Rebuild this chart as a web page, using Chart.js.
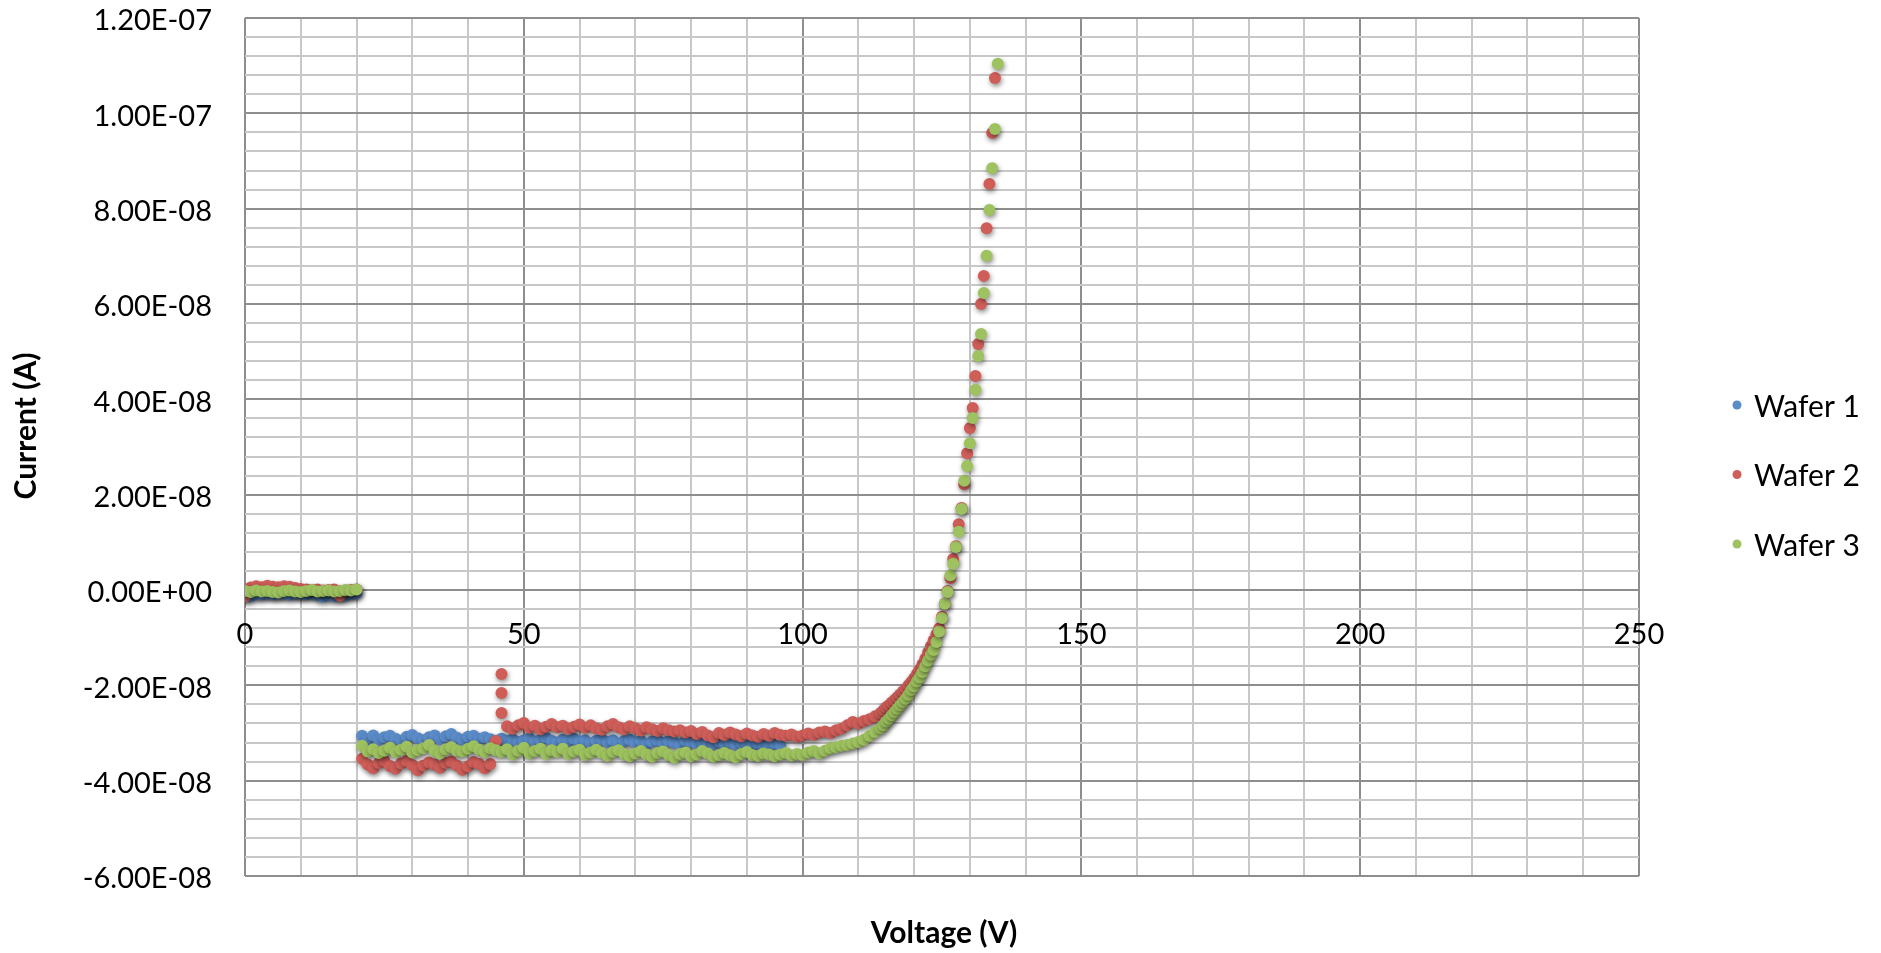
<!DOCTYPE html>
<html>
<head>
<meta charset="utf-8">
<title>Wafer IV</title>
<script src="https://cdn.jsdelivr.net/npm/chart.js@4.4.1/dist/chart.umd.min.js"></script>
<style>
  html, body { margin: 0; padding: 0; background: #fff; }
  #wrap { width: 1881px; height: 953px; position: relative; }
</style>
</head>
<body>
<div id="wrap"><canvas id="ivChart"></canvas></div>
<script>
// voltage steps (V), 1 V in the flat part, 0.5 V in the breakdown part
const voltage = [
  0, 1, 2, 3, 4, 5, 6, 7, 8, 9, 10, 11, 12, 13, 14, 15, 16, 17, 18, 19, 20,
  21, 22, 23, 24, 25, 26, 27, 28, 29, 30, 31, 32, 33, 34, 35, 36, 37, 38, 39, 40,
  41, 42, 43, 44, 45, 46, 47, 48, 49, 50, 51, 52, 53, 54, 55, 56, 57, 58, 59, 60,
  61, 62, 63, 64, 65, 66, 67, 68, 69, 70, 71, 72, 73, 74, 75, 76, 77, 78, 79, 80,
  81, 82, 83, 84, 85, 86, 87, 88, 89, 90, 91, 92, 93, 94, 95, 96, 97, 98, 99, 100,
  101, 102, 103, 104, 105, 106, 107, 108, 109, 110, 111, 112, 113, 114,
  114.5, 115, 115.5, 116, 116.5, 117, 117.5, 118, 118.5, 119, 119.5, 120, 120.5, 121,
  121.5, 122, 122.5, 123, 123.5, 124, 124.5, 125, 125.5, 126, 126.5, 127, 127.5, 128,
  128.5, 129, 129.5, 130, 130.5, 131, 131.5, 132, 132.5, 133, 133.5, 134, 134.5, 135
];

// currents in nA, same index as voltage
const wafer1 = [
  -0.9, -1.3, -0.8, -1.0, -0.7, -0.9, -0.8, -0.7, -1.0, -0.7, -0.8, -0.9, -0.7, -1.1, -1.4, -1.0, -1.3, -0.9, -1.2, -0.8, -0.7,
  -30.6, -31.3, -30.5, -31.4, -30.9, -30.6, -31.2, -31.6, -30.8, -30.4, -31.1, -31.5, -30.9, -30.5, -31.3, -30.7, -30.2, -31.0, -31.4, -30.8, -30.6, -31.2, -30.9, -31.3, -31.6,
  -31.2, -31.7, -31.3, -31.9, -31.5, -31.1, -31.8, -31.4, -31.0, -31.6,
  -32.0, -31.4, -31.7, -31.2, -31.8, -31.5, -32.1, -31.6, -31.3, -31.9,
  -31.5, -32.2, -31.7, -31.4, -32.0, -31.6, -32.3, -31.8, -31.5, -32.1,
  -31.7, -32.0, -32.4, -31.6, -31.9, -32.2, -31.7, -32.1, -32.5, -31.8,
  -32.2, -31.9, -32.4, -32.0, -32.3, -32.6, -32.1, -32.4, -32.7, -32.2, -32.5
];

const wafer2 = [
  -1.3, 0.5, 0.8, 0.6, 0.9, 0.7, 0.6, 0.8, 0.7, 0.4, 0.2, 0.1, 0.0, 0.1, -0.1, 0.0, 0.1, -1.2, -0.1, 0.0, 0.1,
  -35.4, -36.6, -37.4, -36.3, -35.8, -36.9, -37.5, -36.4, -35.9, -36.7, -37.8, -36.8, -36.2, -36.6, -37.3, -36.3, -36.0, -36.8, -37.7, -37.0, -36.1, -36.5, -37.4, -36.5, -31.7,
  -25.8,
  -28.6, -29.1, -28.4, -27.9, -28.9, -28.5, -29.2, -28.7, -28.1, -28.8,
  -28.5, -29.1, -28.7, -28.2, -28.9, -28.4, -29.0, -29.3, -28.6, -28.1,
  -28.8, -29.2, -28.6, -29.0, -29.5, -28.8, -29.2, -29.6, -29.0, -29.4,
  -29.7, -29.4, -29.9, -29.6, -30.2, -29.8, -30.5, -30.9, -30.0, -30.4,
  -29.9, -30.3, -30.7, -30.1, -30.5, -30.8, -30.2, -30.6, -30.0, -30.4,
  -30.6, -30.3, -30.8, -30.5, -30.1, -30.4, -29.9, -29.7, -30.0, -29.4,
  -29.1, -28.4, -27.7, -28.0, -27.5, -27.1, -26.5, -25.8,
  -25.2, -24.6, -24.2, -23.6, -23.1, -22.5, -21.9, -21.3, -20.7, -20.0,
  -19.3, -18.5, -17.6, -16.7, -15.6, -14.4, -13.1, -11.8, -10.6, -9.3,
  -8.0, -5.6, -2.9, -0.2, 2.5, 6.5, 9.2, 13.8, 17.2, 22.2, 28.7,
  34.0, 38.2, 44.9, 51.6, 60.0, 65.9, 75.9, 85.2, 95.9, 107.4
];
// extra wafer 2 readings taken at 46 V (the spike)
const wafer2SpikeV = [46, 46];
const wafer2SpikeI = [-21.6, -17.6];

const wafer3 = [
  -0.2, -0.4, -0.1, -0.3, -0.2, -0.4, -0.5, -0.2, -0.1, -0.3, -0.4, -0.2, 0.0, -0.3, -0.2, -0.1, -0.3, -0.2, 0.0, -0.1, 0.1,
  -32.7, -33.9, -33.4, -34.2, -33.7, -33.1, -34.0, -33.5, -32.9, -34.1, -33.6, -33.2, -32.5, -33.8, -34.3, -33.4, -33.0, -33.7, -33.9, -33.3, -32.8, -33.5, -34.0, -33.2, -33.6,
  -34.0, -33.4, -34.5, -33.7, -33.1, -34.3, -33.8, -33.3, -34.4, -33.6,
  -34.0, -33.3, -34.4, -33.9, -33.5, -34.6, -34.1, -33.5, -34.2, -34.8,
  -34.0, -33.6, -34.4, -34.9, -34.3, -33.8, -34.5, -35.0, -34.2, -33.9,
  -34.6, -35.2, -34.4, -34.1, -34.9, -34.5, -33.8, -34.3, -35.0, -34.6,
  -34.2, -34.7, -35.1, -34.4, -34.0, -34.6, -34.8, -34.3, -34.5, -34.9,
  -34.5, -34.2, -34.7, -34.4, -34.6, -34.1, -33.8, -34.3, -33.7, -33.2,
  -33.0, -32.7, -32.5, -32.2, -31.9, -31.4, -30.6, -29.8, -29.0,
  -28.4, -27.6, -27.0, -26.3, -25.6, -24.9, -24.2, -23.5, -22.8, -22.0,
  -21.0, -20.2, -19.2, -18.3, -17.2, -16.0, -14.8, -13.6, -12.6, -10.9,
  -8.7, -5.9, -2.9, -0.4, 3.1, 5.5, 9.0, 12.2, 17.0, 22.9, 26.0,
  30.8, 36.1, 42.0, 49.1, 53.7, 62.3, 70.1, 79.7, 88.5, 96.7, 110.4
];

const xTickLabels = ['0', '50', '100', '150', '200', '250'];
const yTickLabels = ['-6.00E-08', '-4.00E-08', '-2.00E-08', '0.00E+00', '2.00E-08', '4.00E-08', '6.00E-08', '8.00E-08', '1.00E-07', '1.20E-07'];
const seriesNames = ['Wafer 1', 'Wafer 2', 'Wafer 3'];
const seriesColors = ['#5b8cc8', '#cf5e59', '#9ec25f'];

const NANO = 1e-9;
const GRID_MINOR = '#c8c8c8';
const GRID_MAJOR = '#8e8e8e';

function toPoints(currents, volts) {
    return currents.map((c, i) => ({ x: volts[i], y: c * NANO }));
}

function isMajorY(v) {
    const k = v / 2e-8;
    return Math.abs(k - Math.round(k)) < 1e-6;
}

function yLabel(v) {
    const k = Math.round(v / 2e-8) + 3; // index into yTickLabels, -6E-08 is first
    return yTickLabels[k] || '';
}

// shadow under the markers, like the spreadsheet original
const markerShadow = {
    id: 'markerShadow',
    beforeDatasetDraw(chart) {
        const ctx = chart.ctx;
        ctx.save();
        ctx.shadowColor = 'rgba(0,0,0,0.45)';
        ctx.shadowBlur = 5;
        ctx.shadowOffsetX = 1;
        ctx.shadowOffsetY = 2.5;
    },
    afterDatasetDraw(chart) {
        chart.ctx.restore();
    }
};

// axis titles and the legend on the right
const titlesAndLegend = {
    id: 'titlesAndLegend',
    afterDraw(chart) {
        const ctx = chart.ctx;
        const area = chart.chartArea;
        ctx.save();
        ctx.fillStyle = '#000';
        ctx.font = 'bold 30px Lato';
        ctx.textAlign = 'center';
        ctx.textBaseline = 'middle';
        ctx.fillText('Voltage (V)', (area.left + area.right) / 2 + 2, area.bottom + 57);

        ctx.save();
        ctx.translate(26, (area.top + area.bottom) / 2 - 21);
        ctx.rotate(-Math.PI / 2);
        ctx.fillText('Current (A)', 0, 0);
        ctx.restore();

        ctx.font = '30px Lato';
        ctx.textAlign = 'left';
        chart.data.datasets.forEach((ds, i) => {
            const y = 406 + i * 69.5;
            ctx.beginPath();
            ctx.fillStyle = ds.backgroundColor;
            ctx.arc(area.right + 98, y - 1, 4.5, 0, Math.PI * 2);
            ctx.fill();
            ctx.fillStyle = '#000';
            ctx.fillText(ds.label, area.right + 115, y + 1);
        });
        ctx.restore();
    }
};

function drawChart() {
    const ctx = document.getElementById('ivChart').getContext('2d');
    const wafer2Points = toPoints(wafer2, voltage).concat(toPoints(wafer2SpikeI, wafer2SpikeV));

    new Chart(ctx, {
        type: 'scatter',
        data: {
            datasets: [{
                label: seriesNames[0],
                data: toPoints(wafer1, voltage),
                backgroundColor: seriesColors[0],
                order: 3
            }, {
                label: seriesNames[1],
                data: wafer2Points,
                backgroundColor: seriesColors[1],
                order: 2
            }, {
                label: seriesNames[2],
                data: toPoints(wafer3, voltage),
                backgroundColor: seriesColors[2],
                order: 1
            }]
        },
        options: {
            responsive: true,
            maintainAspectRatio: false,
            animation: false,
            layout: { padding: { left: 0, top: 18, right: 242, bottom: 77 } },
            elements: { point: { radius: 6, borderWidth: 0, hoverRadius: 6 } },
            plugins: {
                legend: { display: false },
                tooltip: { enabled: false }
            },
            scales: {
                x: {
                    type: 'linear',
                    position: { y: 0 },
                    min: 0,
                    max: 250,
                    border: { display: false },
                    grid: {
                        drawTicks: false,
                        lineWidth: 2,
                        color: c => (c.tick && c.tick.value % 50 === 0) ? GRID_MAJOR : GRID_MINOR
                    },
                    ticks: {
                        stepSize: 10,
                        autoSkip: false,
                        maxRotation: 0,
                        padding: 27,
                        color: '#000',
                        font: { family: 'Lato', size: 29 },
                        callback: v => (v % 50 === 0 ? xTickLabels[v / 50] : '')
                    }
                },
                y: {
                    type: 'linear',
                    min: -6e-8,
                    max: 1.2e-7,
                    border: { display: false },
                    afterFit: scale => {
                        scale.width = 245;
                        scale.paddingTop = 0;
                        scale.paddingBottom = 0;
                    },
                    grid: {
                        drawTicks: false,
                        lineWidth: 2,
                        color: c => (c.tick && isMajorY(c.tick.value)) ? GRID_MAJOR : GRID_MINOR
                    },
                    ticks: {
                        stepSize: 4e-9,
                        autoSkip: false,
                        padding: 33,
                        labelOffset: 3,
                        color: '#000',
                        font: { family: 'Lato', size: 29 },
                        callback: v => (isMajorY(v) ? yLabel(v) : '')
                    }
                }
            }
        },
        plugins: [markerShadow, titlesAndLegend]
    });
}

document.addEventListener('DOMContentLoaded', function() {
    Promise.all([
        document.fonts.load('29px Lato'),
        document.fonts.load('bold 30px Lato')
    ]).then(drawChart, drawChart);
});
</script>
</body>
</html>
